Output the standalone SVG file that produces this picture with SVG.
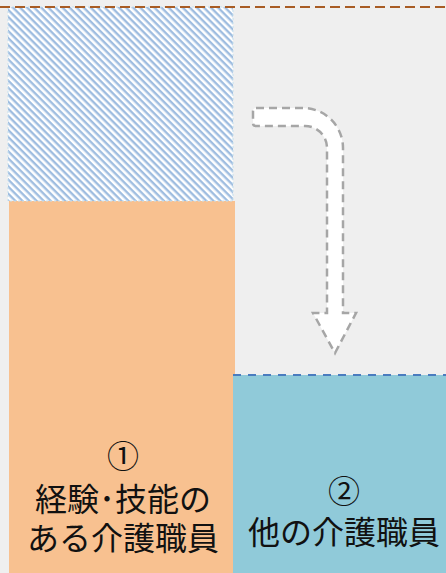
<svg xmlns="http://www.w3.org/2000/svg" width="446" height="573" viewBox="0 0 446 573">
<style>
.lbl{font-family:"Liberation Sans","Noto Sans CJK JP",sans-serif;font-size:32px;fill:#111;text-anchor:middle}
</style>
<defs>
<pattern id="hatch" patternUnits="userSpaceOnUse" width="5" height="5" patternTransform="rotate(45)">
<rect width="5" height="5" fill="#ffffff"/>
<rect y="0" width="5" height="2.4" fill="#9fbde0"/>
</pattern>
</defs>
<rect width="446" height="573" fill="#efefef"/>
<g id="node1">
<rect x="9" y="201" width="226" height="372" fill="#f8c190"/>
<rect x="8" y="7" width="225" height="194" fill="url(#hatch)" stroke="#c5e0ee" stroke-width="1" stroke-dasharray="2 2"/>
<text class="lbl" x="123" y="468">①</text>
<text class="lbl" x="123" y="511">経験･技能の</text>
<text class="lbl" x="123" y="550">ある介護職員</text>
</g>
<g id="node2">
<rect x="233" y="375" width="213" height="198" fill="#90cad9"/>
<text class="lbl" x="344" y="503">②</text>
<text class="lbl" x="344" y="544">他の介護職員</text>
</g>
<g id="connectors">
<line x1="0" y1="7" x2="446" y2="7" stroke="#a85c24" stroke-width="2" stroke-dasharray="10 5"/>
<line x1="233" y1="375" x2="446" y2="375" stroke="#4a7cbf" stroke-width="2" stroke-dasharray="8 7"/>
<path d="M256,108 L303,108 A40,40 0 0 1 343,148 L343,313 L356,313 L335,353 L313,313 L327,313 L327,148 A22,22 0 0 0 305,126 L256,126 Q253,126 253,123 L253,111 Q253,108 256,108 Z" fill="#ffffff" stroke="#a6a6a6" stroke-width="2.5" stroke-dasharray="8 5"/>
</g>
</svg>
